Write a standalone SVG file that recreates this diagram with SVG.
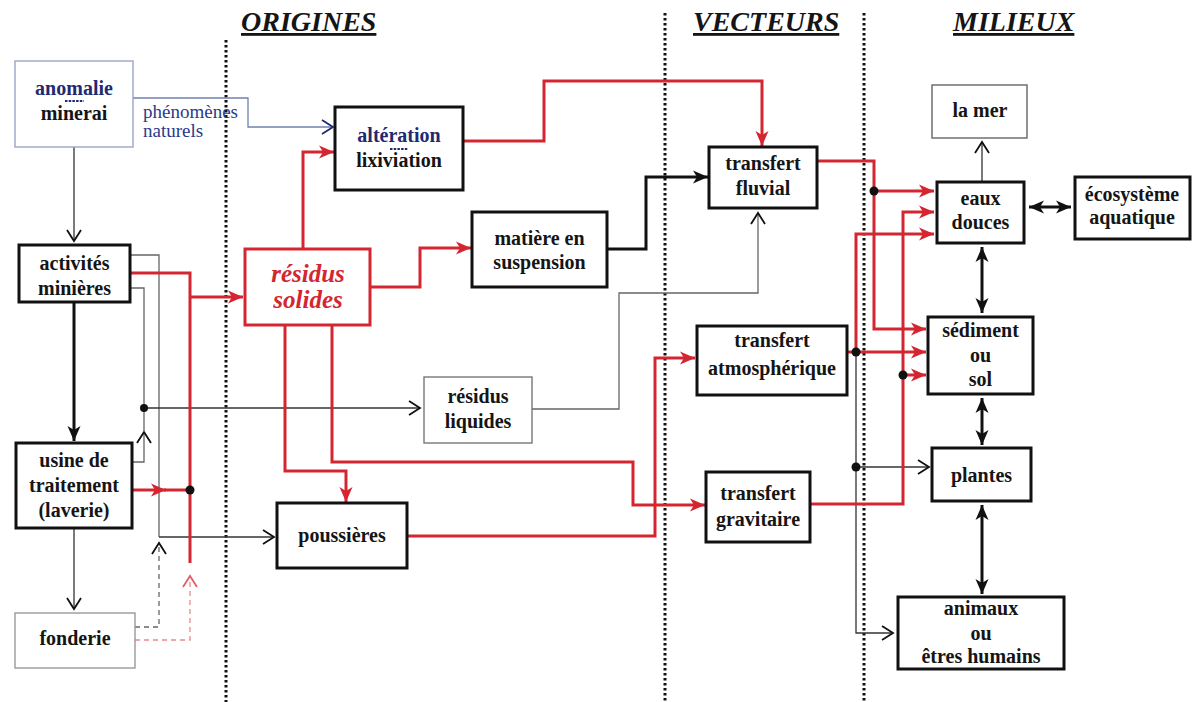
<svg xmlns="http://www.w3.org/2000/svg" width="1194" height="702" viewBox="0 0 1194 702">
  <style>
    .bg { fill: #ffffff; }
    .box { fill: #ffffff; stroke: #111; stroke-width: 3; }
    .thin { fill: #ffffff; stroke: #777; stroke-width: 1.4; }
    .bluebox { fill: #ffffff; stroke: #9aa6c8; stroke-width: 1.4; }
    .redbox { fill: #ffffff; stroke: #d32630; stroke-width: 3; }
    .t { font-family: "Liberation Serif", "Times New Roman", serif; font-weight: bold; font-size: 20px; text-anchor: middle; fill: #151515; }
    .navy { fill: #1f2a73; }
    .rs { fill: #d32630; font-style: italic; font-size: 25px; }
    .hdr { font-family: "Liberation Serif", "Times New Roman", serif; font-weight: bold; font-style: italic; font-size: 28px; text-decoration: underline; fill: #151515; }
    .nat { font-family: "Liberation Serif", "Times New Roman", serif; font-size: 19px; fill: #2b3a8a; }
    .sep { stroke: #111; stroke-width: 3; stroke-dasharray: 2.5 2.5; fill: none; }
    .red { stroke: #d32630; stroke-width: 3; fill: none; }
    .blk { stroke: #111; stroke-width: 3; fill: none; }
    .fine { stroke: #333; stroke-width: 1.3; fill: none; }
    .grey { stroke: #666; stroke-width: 1.3; fill: none; }
    .blue { stroke: #7080b0; stroke-width: 1.3; fill: none; }
    .dashg { stroke: #666; stroke-width: 1.3; fill: none; stroke-dasharray: 5 4; }
    .dashr { stroke: #e88a90; stroke-width: 1.3; fill: none; stroke-dasharray: 5 4; }
    .dot { fill: #111; }
    .tick { stroke: #1f2a73; stroke-width: 1.8; stroke-dasharray: 2.5 1.2; }
  </style>
  <defs>
    <marker id="arrRed" markerUnits="userSpaceOnUse" markerWidth="16" markerHeight="14" refX="15" refY="7" orient="auto" overflow="visible">
      <path d="M0,0.5 L15,7 L0,13.5 L4,7 z" fill="#d32630"/>
    </marker>
    <marker id="arrBlk" markerUnits="userSpaceOnUse" markerWidth="16" markerHeight="14" refX="15" refY="7" orient="auto-start-reverse" overflow="visible">
      <path d="M0,0.5 L15,7 L0,13.5 L4,7 z" fill="#111"/>
    </marker>
    <marker id="chev" markerUnits="userSpaceOnUse" markerWidth="14" markerHeight="16" refX="12" refY="8" orient="auto" overflow="visible">
      <path d="M1,1 L12,8 L1,15" fill="none" stroke="#111" stroke-width="1.8"/>
    </marker>
    <marker id="chevBlue" markerUnits="userSpaceOnUse" markerWidth="14" markerHeight="16" refX="12" refY="8" orient="auto" overflow="visible">
      <path d="M1,1 L12,8 L1,15" fill="none" stroke="#1f2a73" stroke-width="1.8"/>
    </marker>
    <marker id="chevRed" markerUnits="userSpaceOnUse" markerWidth="14" markerHeight="16" refX="12" refY="8" orient="auto" overflow="visible">
      <path d="M1,1 L12,8 L1,15" fill="none" stroke="#e0606a" stroke-width="1.8"/>
    </marker>
  </defs>

  <rect class="bg" x="0" y="0" width="1194" height="702"/>

  <!-- column headings and dotted separators -->
  <g id="headings">
    <text class="hdr" x="241" y="31">ORIGINES</text>
    <text class="hdr" x="693" y="31">VECTEURS</text>
    <text class="hdr" x="953" y="31">MILIEUX</text>
    <line class="sep" x1="226" y1="40" x2="226" y2="702"/>
    <line class="sep" x1="665" y1="13" x2="665" y2="702"/>
    <line class="sep" x1="864" y1="13" x2="864" y2="702"/>
  </g>

  <!-- connectors -->
  <g id="connectors">
    <!-- sources on the left -->
    <line class="fine" x1="74" y1="147" x2="74" y2="241" marker-end="url(#chev)"/>
    <line class="blk" x1="74" y1="302" x2="74" y2="441" marker-end="url(#arrBlk)"/>
    <line class="fine" x1="74" y1="529" x2="74" y2="609" marker-end="url(#chev)"/>
    <path class="blue" d="M133,98 H248 V127 H333" marker-end="url(#chevBlue)"/>

    <!-- grey feeds from activités and usine -->
    <path class="grey" d="M130,255 H159 V537"/>
    <path class="fine" d="M159,537 H274" marker-end="url(#chev)"/>
    <path class="grey" d="M130,288 H144 V408"/>
    <path class="fine" d="M144,408 H420" marker-end="url(#chev)"/>
    <path class="grey" d="M132,462 H144 V432" marker-end="url(#chev)"/>
    <line class="grey" x1="144" y1="432" x2="144" y2="408"/>
    <circle class="dot" cx="144" cy="408" r="4"/>

    <!-- fonderie dashed feeds -->
    <path class="dashg" d="M135,627 H159 V543" marker-end="url(#chev)"/>
    <path class="dashr" d="M135,640 H190 V576" marker-end="url(#chevRed)"/>

    <!-- red solid waste collector -->
    <path class="red" d="M130,273 H190 V563"/>
    <path class="red" d="M190,297 H243" marker-end="url(#arrRed)"/>
    <path class="red" d="M132,490 H166" marker-end="url(#arrRed)"/>
    <line class="red" x1="164" y1="490" x2="190" y2="490"/>
    <circle class="dot" cx="190" cy="490" r="4.5"/>

    <!-- from résidus solides -->
    <path class="red" d="M303,249 V152 H334" marker-end="url(#arrRed)"/>
    <path class="red" d="M370,287 H420 V248 H471" marker-end="url(#arrRed)"/>
    <path class="red" d="M285,325 V471 H346 V502" marker-end="url(#arrRed)"/>
    <path class="red" d="M332,325 V462 H633 V505 H705" marker-end="url(#arrRed)"/>

    <!-- towards the transfer vectors -->
    <path class="red" d="M463,141 H544 V81 H762 V146" marker-end="url(#arrRed)"/>
    <path class="blk" d="M607,249 H646 V177 H708" marker-end="url(#arrBlk)"/>
    <path class="grey" d="M532,409 H619 V293 H758 V213" marker-end="url(#chev)"/>
    <path class="red" d="M407,536 H655 V358 H695" marker-end="url(#arrRed)"/>

    <!-- transfert fluvial to milieux -->
    <path class="red" d="M817,161 H874 V329 H926" marker-end="url(#arrRed)"/>
    <path class="red" d="M874,191 H934" marker-end="url(#arrRed)"/>
    <circle class="dot" cx="874" cy="191" r="4.5"/>

    <!-- transfert atmosphérique to milieux -->
    <path class="red" d="M847,352 H926" marker-end="url(#arrRed)"/>
    <path class="red" d="M856,352 V234 H934" marker-end="url(#arrRed)"/>
    <path class="fine" d="M856,352 V633 H893" marker-end="url(#chev)"/>
    <path class="fine" d="M856,467 H929" marker-end="url(#chev)"/>
    <circle class="dot" cx="856" cy="352" r="4.5"/>
    <circle class="dot" cx="856" cy="467" r="4.5"/>

    <!-- transfert gravitaire to milieux -->
    <path class="red" d="M810,504 H903 V212 H934" marker-end="url(#arrRed)"/>
    <path class="red" d="M903,375 H926" marker-end="url(#arrRed)"/>
    <circle class="dot" cx="903" cy="375" r="4.5"/>

    <!-- exchanges between milieux -->
    <line class="fine" x1="982" y1="182" x2="982" y2="142" marker-end="url(#chev)"/>
    <line class="blk" x1="1029" y1="207" x2="1071" y2="207" marker-start="url(#arrBlk)" marker-end="url(#arrBlk)"/>
    <line class="blk" x1="982" y1="247" x2="982" y2="313" marker-start="url(#arrBlk)" marker-end="url(#arrBlk)"/>
    <line class="blk" x1="982" y1="398" x2="982" y2="445" marker-start="url(#arrBlk)" marker-end="url(#arrBlk)"/>
    <line class="blk" x1="982" y1="505" x2="982" y2="594" marker-start="url(#arrBlk)" marker-end="url(#arrBlk)"/>
  </g>

  <!-- nodes -->
  <g id="anomalie">
    <rect class="bluebox" x="15" y="61" width="118" height="86"/>
    <text class="t navy" x="74" y="95">anomalie</text>
    <line class="tick" x1="65" y1="101" x2="84" y2="101"/>
    <text class="t" x="74" y="120">minerai</text>
  </g>
  <text class="nat" x="143" y="118">phénomènes</text>
  <text class="nat" x="143" y="137">naturels</text>

  <g id="activites">
    <rect class="box" x="19" y="245" width="111" height="57"/>
    <text class="t" x="74.5" y="270">activités</text>
    <text class="t" x="74.5" y="295">minières</text>
  </g>
  <g id="usine">
    <rect class="box" x="16" y="443" width="116" height="85"/>
    <text class="t" x="74" y="467">usine de</text>
    <text class="t" x="74" y="492">traitement</text>
    <text class="t" x="74" y="517">(laverie)</text>
  </g>
  <g id="fonderie">
    <rect class="thin" x="15" y="613" width="120" height="55" style="stroke:#999"/>
    <text class="t" x="75" y="645">fonderie</text>
  </g>
  <g id="residus-solides">
    <rect class="redbox" x="245" y="249" width="125" height="76"/>
    <text class="t rs" x="308" y="282">résidus</text>
    <text class="t rs" x="308" y="308">solides</text>
  </g>
  <g id="alteration">
    <rect class="box" x="335" y="107" width="128" height="83"/>
    <text class="t navy" x="399" y="142">altération</text>
    <line class="tick" x1="390" y1="149" x2="408" y2="149"/>
    <text class="t" x="399" y="167">lixiviation</text>
  </g>
  <g id="matiere">
    <rect class="box" x="472" y="212" width="135" height="75"/>
    <text class="t" x="539.5" y="245">matière en</text>
    <text class="t" x="539.5" y="269">suspension</text>
  </g>
  <g id="residus-liquides">
    <rect class="thin" x="424" y="377" width="108" height="66"/>
    <text class="t" x="478" y="403">résidus</text>
    <text class="t" x="478" y="428">liquides</text>
  </g>
  <g id="poussieres">
    <rect class="box" x="277" y="503" width="130" height="65"/>
    <text class="t" x="342" y="542">poussières</text>
  </g>
  <g id="transfert-fluvial">
    <rect class="box" x="709" y="147" width="108" height="61"/>
    <text class="t" x="763" y="170">transfert</text>
    <text class="t" x="763" y="195">fluvial</text>
  </g>
  <g id="transfert-atmospherique">
    <rect class="box" x="697" y="326" width="150" height="69"/>
    <text class="t" x="772" y="347">transfert</text>
    <text class="t" x="772" y="375">atmosphérique</text>
  </g>
  <g id="transfert-gravitaire">
    <rect class="box" x="706" y="472" width="104" height="70"/>
    <text class="t" x="758" y="500">transfert</text>
    <text class="t" x="758" y="526">gravitaire</text>
  </g>
  <g id="la-mer">
    <rect class="thin" x="932" y="85" width="95" height="53" style="stroke:#666"/>
    <text class="t" x="980" y="117">la mer</text>
  </g>
  <g id="eaux-douces">
    <rect class="box" x="937" y="182" width="87" height="61"/>
    <text class="t" x="980.5" y="205">eaux</text>
    <text class="t" x="980.5" y="229">douces</text>
  </g>
  <g id="ecosysteme">
    <rect class="box" x="1075" y="177" width="115" height="62"/>
    <text class="t" x="1132" y="201">écosystème</text>
    <text class="t" x="1132" y="224">aquatique</text>
  </g>
  <g id="sediment">
    <rect class="box" x="928" y="317" width="105" height="77"/>
    <text class="t" x="980.5" y="337">sédiment</text>
    <text class="t" x="980.5" y="362">ou</text>
    <text class="t" x="980.5" y="386">sol</text>
  </g>
  <g id="plantes">
    <rect class="box" x="932" y="448" width="99" height="53"/>
    <text class="t" x="981.5" y="482">plantes</text>
  </g>
  <g id="animaux">
    <rect class="box" x="898" y="597" width="166" height="72"/>
    <text class="t" x="981" y="615">animaux</text>
    <text class="t" x="981" y="640">ou</text>
    <text class="t" x="981" y="663">êtres humains</text>
  </g>
</svg>
